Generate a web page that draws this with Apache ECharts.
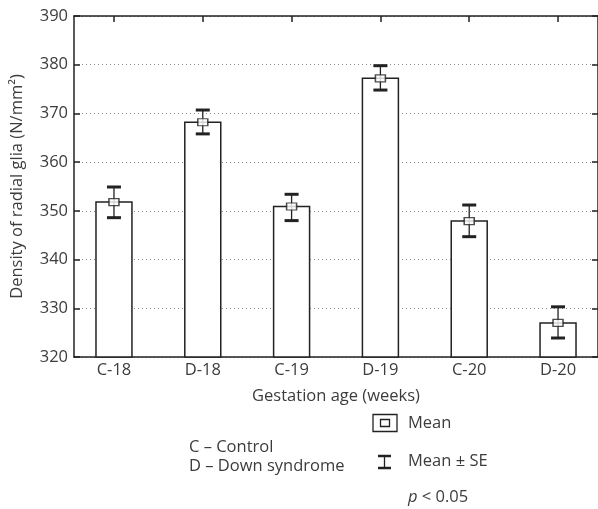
<!DOCTYPE html>
<html>
<head>
<meta charset="utf-8">
<script src="https://cdn.jsdelivr.net/npm/echarts@6/dist/echarts.min.js"></script>
<style>
  html, body { margin: 0; padding: 0; background: #fff; }
  #chart { width: 598px; height: 509px; }
</style>
</head>
<body>
<div id="chart"></div>
<script>
const categories = ['C-18', 'D-18', 'C-19', 'D-19', 'C-20', 'D-20'];
const means = [351.8, 368.2, 350.9, 377.2, 347.9, 327.0];
const seLow = [348.6, 365.8, 348.0, 374.8, 344.7, 323.9];
const seHigh = [354.9, 370.7, 353.4, 379.8, 351.2, 330.3];
const yTicks = [320, 330, 340, 350, 360, 370, 380, 390];
const xTitle = 'Gestation age (weeks)';
const yTitle = 'Density of radial glia (N/mm²)';
const groupNotes = ['C – Control', 'D – Down syndrome'];
const legendLabels = ['Mean', 'Mean ± SE'];
const pNote = ['p', ' < 0.05'];

const FONT = 'Open Sans';
const FS = 16.5;
const TXT = '#3c3c3c';
const LINE = '#222';
const idx = categories.map((c, i) => i);
const yMin = yTicks[0], yMax = yTicks[yTicks.length - 1];

const chart = echarts.init(document.getElementById('chart'));

const xCommon = {
  type: 'value', min: -0.45, max: 5.45,
  axisLine: { onZero: false, lineStyle: { color: LINE, width: 1.5 } },
  axisTick: { inside: true, length: 6, customValues: idx, lineStyle: { color: LINE, width: 1.5 } },
  splitLine: { show: false }
};
const yCommon = {
  type: 'value', min: yMin, max: yMax, interval: 10,
  axisLine: { show: true, onZero: false, lineStyle: { color: LINE, width: 1.5 } },
  axisTick: { show: true, inside: true, length: 6, lineStyle: { color: LINE, width: 1.5 } }
};

chart.setOption({
  animation: false,
  backgroundColor: '#fff',
  textStyle: { fontFamily: FONT },
  grid: { left: 74, right: -1, top: 16, bottom: 152 },
  xAxis: [
    Object.assign({}, xCommon, {
      position: 'bottom',
      name: xTitle, nameLocation: 'middle', nameGap: 31,
      nameTextStyle: { fontSize: FS, color: TXT, fontFamily: FONT },
      axisLabel: {
        customValues: idx, margin: 5, fontSize: FS, color: TXT, fontFamily: FONT,
        formatter: v => categories[Math.round(v)] || ''
      }
    }),
    Object.assign({}, xCommon, { position: 'top', axisLabel: { show: false } })
  ],
  yAxis: [
    Object.assign({}, yCommon, {
      position: 'left',
      name: yTitle, nameLocation: 'middle', nameGap: 48,
      nameTextStyle: { fontSize: FS, color: TXT, fontFamily: FONT },
      axisLabel: { margin: 6, fontSize: FS, color: TXT, fontFamily: FONT },
      splitLine: { show: true, lineStyle: { color: '#8a8a8a', type: [1, 3], width: 1 } }
    }),
    Object.assign({}, yCommon, { position: 'right', axisLabel: { show: false }, splitLine: { show: false } })
  ],
  series: [
    {
      type: 'custom', name: 'bars',
      data: means.map((m, i) => [i, m]),
      renderItem: function (params, api) {
        const x = api.value(0), y = api.value(1);
        const p = api.coord([x, y]);
        const b = api.coord([x, yMin]);
        const w = api.size([1, 0])[0] * 0.405;
        return {
          type: 'rect',
          shape: { x: p[0] - w / 2, y: p[1], width: w, height: b[1] - p[1] },
          style: { fill: '#fff', stroke: LINE, lineWidth: 1.5 }
        };
      },
      z: 2
    },
    {
      type: 'custom', name: 'se',
      data: means.map((m, i) => [i, seLow[i], seHigh[i]]),
      renderItem: function (params, api) {
        const x = api.value(0);
        const lo = api.coord([x, api.value(1)]);
        const hi = api.coord([x, api.value(2)]);
        const cw = 7;
        return {
          type: 'group',
          children: [
            { type: 'line', shape: { x1: lo[0], y1: lo[1], x2: hi[0], y2: hi[1] }, style: { stroke: LINE, lineWidth: 1.3 } },
            { type: 'line', shape: { x1: hi[0] - cw, y1: hi[1], x2: hi[0] + cw, y2: hi[1] }, style: { stroke: LINE, lineWidth: 3 } },
            { type: 'line', shape: { x1: lo[0] - cw, y1: lo[1], x2: lo[0] + cw, y2: lo[1] }, style: { stroke: LINE, lineWidth: 3 } }
          ]
        };
      },
      z: 3
    },
    {
      type: 'scatter', name: 'Mean',
      data: means.map((m, i) => [i, m]),
      symbol: 'rect', symbolSize: [10, 7],
      itemStyle: { color: '#fff', borderColor: LINE, borderWidth: 1.3 },
      z: 4
    }
  ],
  graphic: [
    { type: 'text', style: { x: 189, y: 447, verticalAlign: 'middle', text: groupNotes[0], fontSize: FS, fill: TXT, fontFamily: FONT } },
    { type: 'text', style: { x: 189, y: 466, verticalAlign: 'middle', text: groupNotes[1], fontSize: FS, fill: TXT, fontFamily: FONT } },
    { type: 'rect', shape: { x: 373, y: 414.5, width: 24, height: 17 }, style: { fill: '#fff', stroke: LINE, lineWidth: 1.3 } },
    { type: 'rect', shape: { x: 380.5, y: 419.5, width: 9, height: 7 }, style: { fill: '#fff', stroke: LINE, lineWidth: 1.3 } },
    { type: 'line', shape: { x1: 384.5, y1: 456, x2: 384.5, y2: 468 }, style: { stroke: LINE, lineWidth: 1.3 } },
    { type: 'line', shape: { x1: 378, y1: 456, x2: 391, y2: 456 }, style: { stroke: LINE, lineWidth: 2.5 } },
    { type: 'line', shape: { x1: 378, y1: 468, x2: 391, y2: 468 }, style: { stroke: LINE, lineWidth: 2.5 } },
    { type: 'text', style: { x: 408, y: 423, verticalAlign: 'middle', text: legendLabels[0], fontSize: FS, fill: TXT, fontFamily: FONT } },
    { type: 'text', style: { x: 408, y: 461, verticalAlign: 'middle', text: legendLabels[1], fontSize: FS, fill: TXT, fontFamily: FONT } },
    { type: 'text', style: {
        x: 408, y: 497, verticalAlign: 'middle',
        text: '{i|' + pNote[0] + '}' + pNote[1], fontSize: FS, fill: TXT, fontFamily: FONT,
        rich: { i: { fontStyle: 'italic', fontSize: FS, fontFamily: FONT, color: TXT } }
      } }
  ]
});
</script>
</body>
</html>
